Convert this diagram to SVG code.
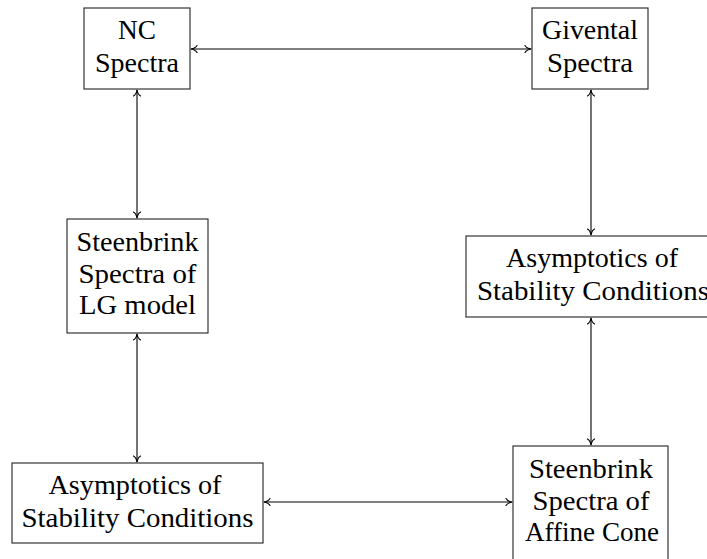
<svg xmlns="http://www.w3.org/2000/svg" width="707" height="559" viewBox="0 0 707 559">
<defs>
<marker id="tip" viewBox="-7 -4 8 8" markerWidth="8" markerHeight="8" refX="0" refY="0" orient="auto-start-reverse" markerUnits="userSpaceOnUse">
<path d="M-6,-3.6 C-5,-1.6 -2.2,-0.4 0,0 C-2.2,0.4 -5,1.6 -6,3.6" fill="none" stroke="#000" stroke-width="1.1" stroke-linecap="round" stroke-linejoin="round"/>
</marker>
<style>
.box{fill:#fff;stroke:#222;stroke-width:1.1}
.t{font-family:'Liberation Serif','DejaVu Serif','Noto Serif',Tinos,FreeSerif,serif;font-size:27px;fill:#000;text-anchor:middle}
.c{stroke:#000;stroke-width:1.1;fill:none;marker-start:url(#tip);marker-end:url(#tip)}
</style>
</defs>
<g id="connectors">
<line class="c" x1="191" y1="49" x2="531" y2="49"/>
<line class="c" x1="137" y1="90" x2="137" y2="218"/>
<line class="c" x1="137" y1="334" x2="137" y2="462"/>
<line class="c" x1="264" y1="502" x2="512" y2="502"/>
<line class="c" x1="591" y1="318" x2="591" y2="445"/>
<line class="c" x1="591" y1="90" x2="591" y2="235"/>
</g>
<g id="nc">
<rect class="box" x="84" y="8" width="106" height="81"/>
<text class="t" x="137" y="39" textLength="38" lengthAdjust="spacingAndGlyphs">NC</text>
<text class="t" x="137" y="71.5" textLength="84" lengthAdjust="spacingAndGlyphs">Spectra</text>
</g>
<g id="givental">
<rect class="box" x="532" y="8" width="116" height="81"/>
<text class="t" x="590" y="39" textLength="96" lengthAdjust="spacingAndGlyphs">Givental</text>
<text class="t" x="590" y="71.5" textLength="86" lengthAdjust="spacingAndGlyphs">Spectra</text>
</g>
<g id="steenbrink-lg">
<rect class="box" x="67" y="219" width="141" height="114"/>
<text class="t" x="137.5" y="251" textLength="122" lengthAdjust="spacingAndGlyphs">Steenbrink</text>
<text class="t" x="137.5" y="282.5" textLength="118" lengthAdjust="spacingAndGlyphs">Spectra of</text>
<text class="t" x="137.5" y="314" textLength="117" lengthAdjust="spacingAndGlyphs">LG model</text>
</g>
<g id="asym-right">
<rect class="box" x="466" y="236" width="250" height="81"/>
<text class="t" x="592" y="267" textLength="172" lengthAdjust="spacingAndGlyphs">Asymptotics of</text>
<text class="t" x="593" y="299.5" textLength="232" lengthAdjust="spacingAndGlyphs">Stability Conditions</text>
</g>
<g id="asym-left">
<rect class="box" x="12" y="463" width="251" height="80"/>
<text class="t" x="135" y="494" textLength="173" lengthAdjust="spacingAndGlyphs">Asymptotics of</text>
<text class="t" x="137.5" y="526.5" textLength="232" lengthAdjust="spacingAndGlyphs">Stability Conditions</text>
</g>
<g id="steenbrink-affine">
<rect class="box" x="513" y="446" width="155" height="114"/>
<text class="t" x="591" y="478" textLength="124" lengthAdjust="spacingAndGlyphs">Steenbrink</text>
<text class="t" x="591" y="509.5" textLength="117" lengthAdjust="spacingAndGlyphs">Spectra of</text>
<text class="t" x="592" y="541" textLength="134" lengthAdjust="spacingAndGlyphs">Affine Cone</text>
</g>
</svg>
